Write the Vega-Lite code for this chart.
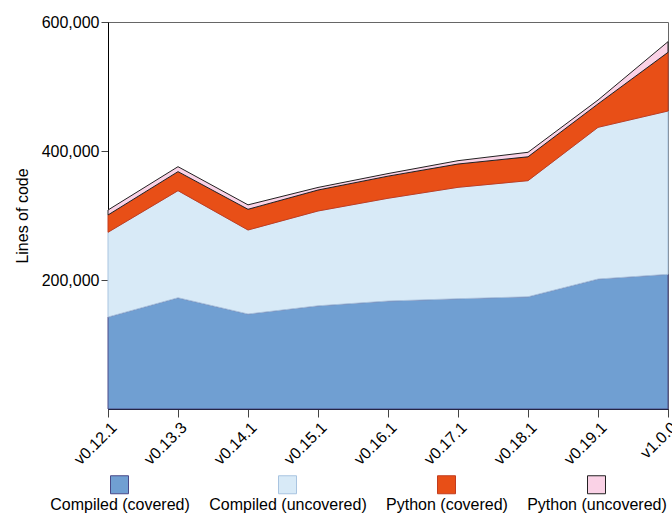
{
  "$schema": "https://vega.github.io/schema/vega-lite/v6.json",
  "width": 560,
  "height": 387,
  "autosize": "none",
  "padding": {"left": 108, "top": 22, "right": 4, "bottom": 104},
  "background": "white",
  "config": {
    "view": {"stroke": "#666", "strokeWidth": 1},
    "font": "Liberation Sans",
    "axis": {
      "labelFont": "Liberation Sans",
      "titleFont": "Liberation Sans",
      "labelFontSize": 16,
      "titleFontSize": 16,
      "titleFontWeight": "normal",
      "labelColor": "black",
      "titleColor": "black",
      "domainColor": "black",
      "tickColor": "#444",
      "grid": false
    },
    "legend": {
      "labelFont": "Liberation Sans",
      "labelFontSize": 16,
      "labelColor": "black"
    }
  },
  "data": {
    "values": [
      {"version": "v0.12.1", "series": "Compiled (covered)", "lines": 142600},
      {"version": "v0.13.3", "series": "Compiled (covered)", "lines": 172500},
      {"version": "v0.14.1", "series": "Compiled (covered)", "lines": 147300},
      {"version": "v0.15.1", "series": "Compiled (covered)", "lines": 160000},
      {"version": "v0.16.1", "series": "Compiled (covered)", "lines": 167400},
      {"version": "v0.17.1", "series": "Compiled (covered)", "lines": 171000},
      {"version": "v0.18.1", "series": "Compiled (covered)", "lines": 174000},
      {"version": "v0.19.1", "series": "Compiled (covered)", "lines": 201500},
      {"version": "v1.0.0", "series": "Compiled (covered)", "lines": 208800},
      {"version": "v0.12.1", "series": "Compiled (uncovered)", "lines": 131400},
      {"version": "v0.13.3", "series": "Compiled (uncovered)", "lines": 166000},
      {"version": "v0.14.1", "series": "Compiled (uncovered)", "lines": 130200},
      {"version": "v0.15.1", "series": "Compiled (uncovered)", "lines": 147000},
      {"version": "v0.16.1", "series": "Compiled (uncovered)", "lines": 159300},
      {"version": "v0.17.1", "series": "Compiled (uncovered)", "lines": 172700},
      {"version": "v0.18.1", "series": "Compiled (uncovered)", "lines": 180000},
      {"version": "v0.19.1", "series": "Compiled (uncovered)", "lines": 235200},
      {"version": "v1.0.0", "series": "Compiled (uncovered)", "lines": 253200},
      {"version": "v0.12.1", "series": "Python (covered)", "lines": 26800},
      {"version": "v0.13.3", "series": "Python (covered)", "lines": 29500},
      {"version": "v0.14.1", "series": "Python (covered)", "lines": 32100},
      {"version": "v0.15.1", "series": "Python (covered)", "lines": 32500},
      {"version": "v0.16.1", "series": "Python (covered)", "lines": 34300},
      {"version": "v0.17.1", "series": "Python (covered)", "lines": 36100},
      {"version": "v0.18.1", "series": "Python (covered)", "lines": 37000},
      {"version": "v0.19.1", "series": "Python (covered)", "lines": 36300},
      {"version": "v1.0.0", "series": "Python (covered)", "lines": 91000},
      {"version": "v0.12.1", "series": "Python (uncovered)", "lines": 7700},
      {"version": "v0.13.3", "series": "Python (uncovered)", "lines": 7700},
      {"version": "v0.14.1", "series": "Python (uncovered)", "lines": 6900},
      {"version": "v0.15.1", "series": "Python (uncovered)", "lines": 4000},
      {"version": "v0.16.1", "series": "Python (uncovered)", "lines": 4000},
      {"version": "v0.17.1", "series": "Python (uncovered)", "lines": 5200},
      {"version": "v0.18.1", "series": "Python (uncovered)", "lines": 7000},
      {"version": "v0.19.1", "series": "Python (uncovered)", "lines": 6000},
      {"version": "v1.0.0", "series": "Python (uncovered)", "lines": 16500}
    ]
  },
  "mark": {"type": "area", "strokeWidth": 1},
  "encoding": {
    "x": {
      "field": "version",
      "type": "ordinal",
      "sort": ["v0.12.1", "v0.13.3", "v0.14.1", "v0.15.1", "v0.16.1", "v0.17.1", "v0.18.1", "v0.19.1", "v1.0.0"],
      "scale": {"type": "point", "padding": 0},
      "axis": {"title": null, "labelAngle": -45, "tickSize": 8, "labelPadding": 2}
    },
    "y": {
      "field": "lines",
      "type": "quantitative",
      "stack": "zero",
      "scale": {"domain": [0, 600000], "nice": false},
      "axis": {"title": "Lines of code", "values": [200000, 400000, 600000], "format": ",.0f", "tickSize": 7, "labelPadding": 2, "titlePadding": 11}
    },
    "fill": {
      "field": "series",
      "type": "nominal",
      "scale": {
        "domain": ["Compiled (covered)", "Compiled (uncovered)", "Python (covered)", "Python (uncovered)"],
        "range": ["#709fd2", "#d8eaf7", "#e84f17", "#fad2e6"]
      },
      "legend": {
        "title": null,
        "orient": "none",
        "legendX": 2,
        "legendY": 453,
        "direction": "horizontal",
        "columns": 4,
        "columnPadding": 19,
        "symbolType": "square",
        "symbolSize": 324,
        "symbolStrokeColor": "black",
        "symbolStrokeWidth": 1,
        "symbolOpacity": 1,
        "labelAlign": "center",
        "labelBaseline": "top",
        "labelOffset": -9,
        "encoding": {"labels": {"dy": {"value": 12}}}
      }
    },
    "stroke": {
      "field": "series",
      "type": "nominal",
      "scale": {
        "domain": ["Compiled (covered)", "Compiled (uncovered)", "Python (covered)", "Python (uncovered)"],
        "range": ["#4a4a88", "#a9c4e0", "#c23c1e", "#222222"]
      },
      "legend": null
    },
    "order": {"field": "series"}
  }
}
